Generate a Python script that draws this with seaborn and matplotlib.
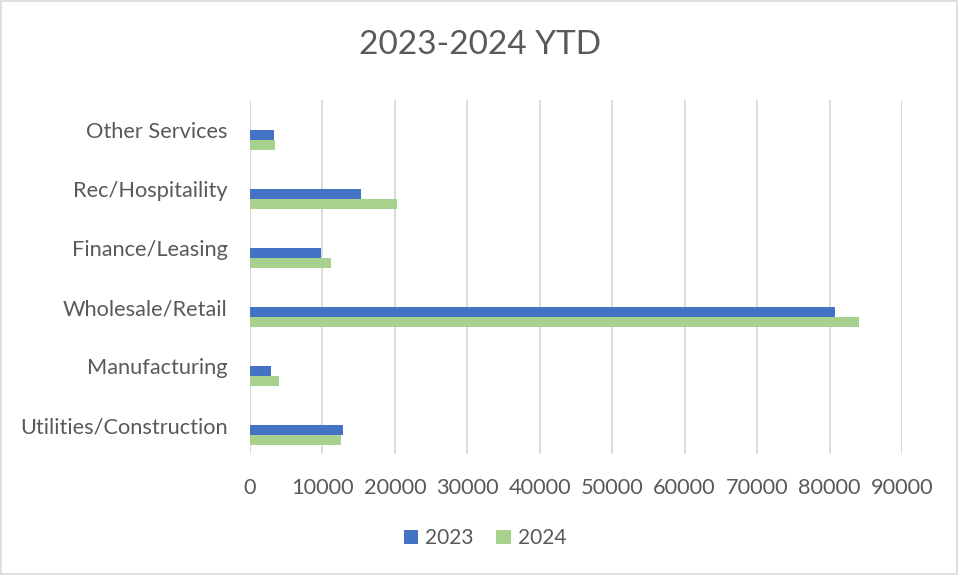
import matplotlib
matplotlib.use("Agg")
import matplotlib.pyplot as plt
import matplotlib.transforms as mtransforms
from matplotlib.patches import Rectangle, Patch
import seaborn as sns
import pandas as pd

categories = ["Other Services", "Rec/Hospitaility", "Finance/Leasing",
              "Wholesale/Retail", "Manufacturing", "Utilities/Construction"]
values_2023 = [3360, 15330, 9800, 80800, 2850, 12840]
values_2024 = [3500, 20340, 11140, 84110, 4050, 12560]
years = ["2023", "2024"]
x_ticks = [0, 10000, 20000, 30000, 40000, 50000, 60000, 70000, 80000, 90000]

df = pd.DataFrame({
    "Category": categories * 2,
    "Value": values_2023 + values_2024,
    "Year": [years[0]] * len(categories) + [years[1]] * len(categories),
})

sns.set_theme(style="white")
plt.rcParams["font.family"] = ["Lato", "DejaVu Sans"]
text_color = "#595959"
colors = {"2023": "#4472C4", "2024": "#A9D18E"}

fig = plt.figure(figsize=(9.59, 5.75), dpi=100)
ax = fig.add_axes([250 / 959, (575 - 454) / 575, 652 / 959, 354 / 575])

sns.barplot(data=df, y="Category", x="Value", hue="Year", order=categories,
            hue_order=years, palette=colors, orient="h", width=0.339,
            ax=ax, legend=False, linewidth=0, saturation=1)

ax.set_xlim(0, 90000)
ax.set_ylim(5.322, -0.678)
ax.set_xticks(x_ticks)
ax.set_xticklabels([str(t) for t in x_ticks])
ax.grid(axis="x", color="#D9D9D9", linewidth=1.3)
ax.set_axisbelow(True)
for s in ax.spines.values():
    s.set_visible(False)
ax.set_xlabel("")
ax.set_ylabel("")
ax.tick_params(axis="both", length=0, labelsize=15.7, labelcolor=text_color)
ax.tick_params(axis="y", pad=16)
ax.tick_params(axis="x", pad=17)

offset = mtransforms.ScaledTranslation(0, 0.1, fig.dpi_scale_trans)
for lab in ax.get_yticklabels():
    lab.set_transform(lab.get_transform() + offset)

fig.text(480 / 959, 1 - 45 / 575, "2023-2024 YTD", ha="center", va="center",
         fontsize=24, color=text_color,
         family=["Liberation Sans Narrow", "Lato", "DejaVu Sans"])

handles = [Patch(facecolor=colors[y], edgecolor="none", label=y) for y in years]
fig.legend(handles=handles, loc="center", bbox_to_anchor=(485 / 959, 1 - 538 / 575),
           ncol=2, frameon=False, fontsize=15, labelcolor=text_color,
           handlelength=0.68, handleheight=0.68, handletextpad=0.35, columnspacing=1.1)

fig.patches.append(Rectangle((0.001, 0.001), 0.997, 0.997, transform=fig.transFigure,
                             fill=False, edgecolor="#D9D9D9", linewidth=1.2))

fig.savefig("out.png", dpi=100)
